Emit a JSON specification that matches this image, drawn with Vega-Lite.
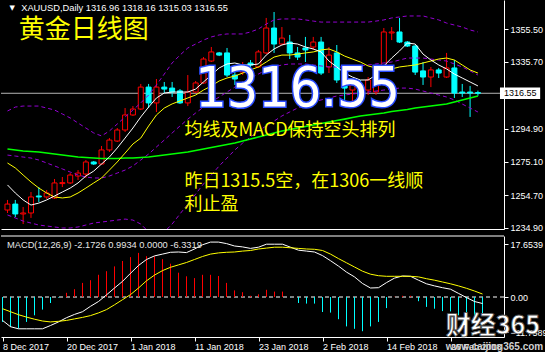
{
"$schema": "https://vega.github.io/schema/vega-lite/v6.json",
"background": "#000000",
"padding": 0,
"spacing": 2,
"config": {
  "view": {"stroke": null},
  "axis": {"grid": false, "labelColor": "#ffffff", "labelFont": "Liberation Sans", "labelFontSize": 9, "domainColor": "#ffffff", "tickColor": "#ffffff", "domainWidth": 1, "tickWidth": 1}
},
"datasets": {"bars": [
{"i":0,"d":"2017-12-08","o":1245.8,"h":1251.9,"l":1244.0,"c":1249.4,"m5":1261.0,"m10":1274.3,"bu":1305.8,"bm":1279.1,"bl":1242.8,"m60":1282.8,"dif":-7.8,"dea":-3.9,"hist":-8.3},
{"i":1,"d":"2017-12-11","o":1249.4,"h":1251.9,"l":1241.5,"c":1243.4,"m5":1256.1,"m10":1271.3,"bu":1308.2,"bm":1278.5,"bl":1241.0,"m60":1282.2,"dif":-9.9,"dea":-4.9,"hist":-10.0},
{"i":2,"d":"2017-12-12","o":1243.4,"h":1247.6,"l":1237.3,"c":1244.0,"m5":1251.9,"m10":1267.0,"bu":1308.8,"bm":1277.9,"bl":1239.1,"m60":1281.6,"dif":-10.6,"dea":-5.9,"hist":-10.5},
{"i":3,"d":"2017-12-13","o":1244.0,"h":1256.7,"l":1241.0,"c":1253.7,"m5":1248.8,"m10":1262.8,"bu":1308.8,"bm":1277.3,"bl":1237.9,"m60":1281.3,"dif":-10.6,"dea":-6.7,"hist":-8.3},
{"i":4,"d":"2017-12-14","o":1254.3,"h":1259.7,"l":1250.6,"c":1253.7,"m5":1250.0,"m10":1259.1,"bu":1308.8,"bm":1276.1,"bl":1236.7,"m60":1281.0,"dif":-10.6,"dea":-7.4,"hist":-6.1},
{"i":5,"d":"2017-12-15","o":1253.7,"h":1257.9,"l":1252.5,"c":1256.1,"m5":1251.9,"m10":1256.1,"bu":1307.6,"bm":1274.3,"bl":1236.1,"m60":1280.4,"dif":-10.6,"dea":-8.0,"hist":-4.2},
{"i":6,"d":"2017-12-18","o":1253.1,"h":1264.6,"l":1252.5,"c":1262.2,"m5":1254.3,"m10":1253.7,"bu":1306.4,"bm":1272.5,"bl":1235.5,"m60":1279.7,"dif":-9.5,"dea":-8.3,"hist":-2.0},
{"i":7,"d":"2017-12-19","o":1261.8,"h":1265.8,"l":1259.7,"c":1262.4,"m5":1256.7,"m10":1253.1,"bu":1304.0,"bm":1270.7,"bl":1234.9,"m60":1279.1,"dif":-8.3,"dea":-8.1,"hist":-0.2},
{"i":8,"d":"2017-12-20","o":1262.2,"h":1268.2,"l":1261.6,"c":1267.0,"m5":1259.1,"m10":1253.7,"bu":1301.6,"bm":1268.8,"bl":1234.9,"m60":1278.5,"dif":-6.9,"dea":-7.8,"hist":1.4},
{"i":9,"d":"2017-12-21","o":1266.4,"h":1270.0,"l":1264.0,"c":1268.2,"m5":1262.2,"m10":1256.1,"bu":1298.5,"bm":1267.0,"bl":1235.5,"m60":1277.9,"dif":-5.8,"dea":-7.3,"hist":2.6},
{"i":10,"d":"2017-12-22","o":1267.6,"h":1276.1,"l":1265.2,"c":1274.9,"m5":1266.4,"m10":1259.1,"bu":1295.5,"bm":1265.8,"bl":1236.7,"m60":1277.6,"dif":-4.9,"dea":-6.8,"hist":4.7},
{"i":11,"d":"2017-12-25","o":1274.9,"h":1275.5,"l":1273.1,"c":1273.7,"m5":1269.4,"m10":1262.2,"bu":1292.5,"bm":1265.2,"bl":1237.9,"m60":1277.3,"dif":-3.1,"dea":-6.2,"hist":5.6},
{"i":12,"d":"2017-12-26","o":1273.7,"h":1284.6,"l":1273.1,"c":1282.2,"m5":1273.7,"m10":1265.2,"bu":1290.7,"bm":1265.2,"bl":1238.5,"m60":1277.0,"dif":-1.5,"dea":-5.3,"hist":7.4},
{"i":13,"d":"2017-12-27","o":1282.2,"h":1289.4,"l":1281.0,"c":1288.2,"m5":1277.9,"m10":1270.0,"bu":1293.7,"bm":1266.4,"bl":1239.1,"m60":1277.0,"dif":0.7,"dea":-4.2,"hist":8.6},
{"i":14,"d":"2017-12-28","o":1287.6,"h":1295.5,"l":1287.0,"c":1294.3,"m5":1283.4,"m10":1274.9,"bu":1297.9,"bm":1268.2,"bl":1239.7,"m60":1277.0,"dif":3.0,"dea":-2.6,"hist":10.2},
{"i":15,"d":"2017-12-29","o":1294.3,"h":1307.6,"l":1293.1,"c":1303.4,"m5":1289.4,"m10":1280.3,"bu":1302.2,"bm":1270.0,"bl":1240.3,"m60":1277.3,"dif":5.2,"dea":-0.9,"hist":12.0},
{"i":16,"d":"2018-01-01","o":1303.4,"h":1308.8,"l":1302.8,"c":1307.0,"m5":1295.5,"m10":1285.8,"bu":1306.4,"bm":1272.5,"bl":1239.7,"m60":1277.3,"dif":7.9,"dea":0.8,"hist":13.3},
{"i":17,"d":"2018-01-02","o":1307.0,"h":1322.2,"l":1306.4,"c":1320.3,"m5":1302.2,"m10":1289.4,"bu":1310.7,"bm":1276.1,"bl":1237.3,"m60":1277.6,"dif":10.5,"dea":3.0,"hist":14.7},
{"i":18,"d":"2018-01-03","o":1320.3,"h":1322.2,"l":1307.6,"c":1310.7,"m5":1308.2,"m10":1296.7,"bu":1315.5,"bm":1279.7,"bl":1232.5,"m60":1277.9,"dif":12.5,"dea":5.4,"hist":13.6},
{"i":19,"d":"2018-01-04","o":1310.7,"h":1325.2,"l":1305.2,"c":1320.3,"m5":1313.7,"m10":1303.4,"bu":1321.6,"bm":1284.0,"bl":1231.3,"m60":1278.5,"dif":13.7,"dea":7.3,"hist":13.6},
{"i":20,"d":"2018-01-05","o":1320.3,"h":1323.4,"l":1316.7,"c":1319.1,"m5":1316.7,"m10":1307.6,"bu":1328.2,"bm":1288.2,"bl":1232.5,"m60":1279.1,"dif":14.3,"dea":8.8,"hist":12.6},
{"i":21,"d":"2018-01-08","o":1319.7,"h":1323.4,"l":1314.3,"c":1317.3,"m5":1317.3,"m10":1310.1,"bu":1334.9,"bm":1292.5,"bl":1237.3,"m60":1279.7,"dif":14.9,"dea":9.9,"hist":11.1},
{"i":22,"d":"2018-01-09","o":1318.0,"h":1319.1,"l":1310.1,"c":1310.7,"m5":1317.3,"m10":1311.9,"bu":1339.7,"bm":1296.7,"bl":1243.4,"m60":1280.4,"dif":15.0,"dea":10.7,"hist":8.1},
{"i":23,"d":"2018-01-10","o":1310.7,"h":1327.6,"l":1308.8,"c":1317.3,"m5":1317.3,"m10":1313.7,"bu":1344.0,"bm":1300.9,"bl":1249.4,"m60":1281.0,"dif":14.8,"dea":11.5,"hist":6.9},
{"i":24,"d":"2018-01-11","o":1317.3,"h":1324.0,"l":1316.7,"c":1322.8,"m5":1319.1,"m10":1315.5,"bu":1346.4,"bm":1304.6,"bl":1255.5,"m60":1281.9,"dif":16.0,"dea":12.5,"hist":6.3},
{"i":25,"d":"2018-01-12","o":1322.8,"h":1338.5,"l":1322.2,"c":1337.3,"m5":1323.4,"m10":1318.5,"bu":1348.8,"bm":1308.2,"bl":1261.6,"m60":1282.8,"dif":17.4,"dea":13.5,"hist":7.4},
{"i":26,"d":"2018-01-15","o":1336.1,"h":1344.6,"l":1335.5,"c":1341.6,"m5":1327.6,"m10":1321.0,"bu":1350.7,"bm":1311.3,"bl":1267.0,"m60":1283.7,"dif":18.3,"dea":14.3,"hist":7.4},
{"i":27,"d":"2018-01-16","o":1341.0,"h":1341.6,"l":1339.1,"c":1339.7,"m5":1331.9,"m10":1324.0,"bu":1351.9,"bm":1314.3,"bl":1272.5,"m60":1284.6,"dif":18.3,"dea":14.7,"hist":7.0},
{"i":28,"d":"2018-01-17","o":1341.0,"h":1344.0,"l":1326.4,"c":1327.6,"m5":1334.3,"m10":1325.8,"bu":1352.5,"bm":1317.3,"bl":1277.3,"m60":1285.5,"dif":17.8,"dea":14.9,"hist":4.7},
{"i":29,"d":"2018-01-18","o":1327.6,"h":1330.7,"l":1321.6,"c":1325.2,"m5":1334.9,"m10":1327.0,"bu":1352.5,"bm":1320.3,"bl":1282.2,"m60":1286.4,"dif":17.0,"dea":15.0,"hist":2.2},
{"i":30,"d":"2018-01-19","o":1329.4,"h":1335.5,"l":1327.6,"c":1333.7,"m5":1333.7,"m10":1328.8,"bu":1352.5,"bm":1323.4,"bl":1286.4,"m60":1287.6,"dif":16.7,"dea":15.3,"hist":1.6},
{"i":31,"d":"2018-01-22","o":1334.9,"h":1336.7,"l":1331.9,"c":1333.7,"m5":1333.7,"m10":1330.7,"bu":1353.7,"bm":1325.8,"bl":1290.0,"m60":1288.8,"dif":16.2,"dea":15.5,"hist":0.4},
{"i":32,"d":"2018-01-23","o":1332.5,"h":1342.8,"l":1331.9,"c":1341.6,"m5":1334.3,"m10":1332.5,"bu":1355.5,"bm":1328.2,"bl":1293.7,"m60":1290.0,"dif":16.6,"dea":16.0,"hist":0.9},
{"i":33,"d":"2018-01-24","o":1341.0,"h":1362.2,"l":1340.3,"c":1356.1,"m5":1339.7,"m10":1335.5,"bu":1358.5,"bm":1330.7,"bl":1296.7,"m60":1291.3,"dif":17.6,"dea":16.3,"hist":2.4},
{"i":34,"d":"2018-01-25","o":1356.1,"h":1365.8,"l":1341.0,"c":1346.4,"m5":1343.4,"m10":1338.5,"bu":1361.0,"bm":1332.5,"bl":1299.7,"m60":1292.5,"dif":17.6,"dea":16.6,"hist":1.8},
{"i":35,"d":"2018-01-26","o":1346.4,"h":1356.7,"l":1345.8,"c":1350.0,"m5":1345.8,"m10":1339.7,"bu":1361.6,"bm":1333.7,"bl":1302.8,"m60":1293.7,"dif":17.6,"dea":16.6,"hist":1.8},
{"i":36,"d":"2018-01-29","o":1347.6,"h":1351.9,"l":1337.3,"c":1341.0,"m5":1347.0,"m10":1339.7,"bu":1361.6,"bm":1334.3,"bl":1305.2,"m60":1294.6,"dif":16.6,"dea":16.4,"hist":-0.1},
{"i":37,"d":"2018-01-30","o":1341.0,"h":1344.6,"l":1336.7,"c":1338.5,"m5":1346.4,"m10":1340.3,"bu":1361.6,"bm":1334.3,"bl":1307.6,"m60":1295.5,"dif":15.6,"dea":16.2,"hist":-2.0},
{"i":38,"d":"2018-01-31","o":1344.0,"h":1350.7,"l":1335.5,"c":1342.8,"m5":1344.6,"m10":1341.0,"bu":1361.0,"bm":1334.3,"bl":1309.4,"m60":1296.4,"dif":15.3,"dea":16.0,"hist":-2.2},
{"i":39,"d":"2018-02-01","o":1344.6,"h":1350.7,"l":1342.8,"c":1347.6,"m5":1343.4,"m10":1341.6,"bu":1360.3,"bm":1333.7,"bl":1311.3,"m60":1297.3,"dif":15.0,"dea":15.9,"hist":-2.2},
{"i":40,"d":"2018-02-02","o":1347.6,"h":1350.7,"l":1327.6,"c":1328.8,"m5":1341.6,"m10":1342.8,"bu":1359.7,"bm":1333.1,"bl":1312.5,"m60":1298.2,"dif":13.8,"dea":15.5,"hist":-5.0},
{"i":41,"d":"2018-02-05","o":1332.5,"h":1344.6,"l":1328.8,"c":1339.7,"m5":1336.1,"m10":1343.4,"bu":1359.7,"bm":1332.5,"bl":1313.7,"m60":1299.1,"dif":12.1,"dea":14.3,"hist":-5.2},
{"i":42,"d":"2018-02-06","o":1341.0,"h":1345.8,"l":1322.8,"c":1324.6,"m5":1332.5,"m10":1341.6,"bu":1359.7,"bm":1332.5,"bl":1314.9,"m60":1300.0,"dif":10.3,"dea":12.8,"hist":-7.4},
{"i":43,"d":"2018-02-07","o":1324.6,"h":1327.6,"l":1312.5,"c":1319.7,"m5":1328.8,"m10":1339.1,"bu":1359.7,"bm":1332.5,"bl":1315.5,"m60":1300.9,"dif":8.3,"dea":11.4,"hist":-9.8},
{"i":44,"d":"2018-02-08","o":1318.5,"h":1322.8,"l":1308.2,"c":1321.6,"m5":1326.4,"m10":1337.3,"bu":1359.7,"bm":1332.5,"bl":1316.1,"m60":1301.9,"dif":6.7,"dea":10.0,"hist":-10.6},
{"i":45,"d":"2018-02-09","o":1321.6,"h":1324.6,"l":1312.5,"c":1314.3,"m5":1324.6,"m10":1335.5,"bu":1359.7,"bm":1333.1,"bl":1316.7,"m60":1302.8,"dif":4.5,"dea":8.6,"hist":-11.4},
{"i":46,"d":"2018-02-12","o":1318.5,"h":1326.4,"l":1315.5,"c":1324.6,"m5":1324.6,"m10":1333.1,"bu":1359.7,"bm":1333.7,"bl":1317.3,"m60":1303.4,"dif":3.0,"dea":7.6,"hist":-9.8},
{"i":47,"d":"2018-02-13","o":1317.3,"h":1333.7,"l":1315.5,"c":1331.9,"m5":1327.6,"m10":1331.9,"bu":1360.3,"bm":1334.3,"bl":1317.9,"m60":1304.0,"dif":3.1,"dea":7.1,"hist":-8.3},
{"i":48,"d":"2018-02-14","o":1330.7,"h":1356.1,"l":1329.4,"c":1353.7,"m5":1333.1,"m10":1330.7,"bu":1361.0,"bm":1334.9,"bl":1318.5,"m60":1304.6,"dif":4.8,"dea":6.9,"hist":-3.7},
{"i":49,"d":"2018-02-15","o":1353.1,"h":1356.7,"l":1348.8,"c":1353.7,"m5":1337.9,"m10":1331.3,"bu":1362.2,"bm":1335.5,"bl":1319.1,"m60":1305.5,"dif":6.3,"dea":6.9,"hist":0.1},
{"i":50,"d":"2018-02-16","o":1353.7,"h":1362.2,"l":1347.0,"c":1347.6,"m5":1342.2,"m10":1332.5,"bu":1362.8,"bm":1336.7,"bl":1319.7,"m60":1306.1,"dif":7.0,"dea":6.9,"hist":0.4},
{"i":51,"d":"2018-02-19","o":1347.6,"h":1348.2,"l":1344.6,"c":1345.2,"m5":1347.0,"m10":1333.1,"bu":1363.4,"bm":1337.9,"bl":1319.7,"m60":1306.7,"dif":6.9,"dea":6.9,"hist":0.4},
{"i":52,"d":"2018-02-20","o":1345.2,"h":1345.8,"l":1327.6,"c":1329.4,"m5":1346.4,"m10":1333.7,"bu":1363.4,"bm":1337.9,"bl":1319.1,"m60":1307.6,"dif":5.6,"dea":6.7,"hist":-1.4},
{"i":53,"d":"2018-02-21","o":1330.1,"h":1335.5,"l":1321.6,"c":1326.4,"m5":1340.3,"m10":1334.9,"bu":1363.4,"bm":1337.9,"bl":1317.9,"m60":1308.2,"dif":4.4,"dea":6.1,"hist":-3.3},
{"i":54,"d":"2018-02-22","o":1326.4,"h":1332.5,"l":1320.3,"c":1330.7,"m5":1336.7,"m10":1336.1,"bu":1362.2,"bm":1337.3,"bl":1316.7,"m60":1308.8,"dif":3.7,"dea":5.6,"hist":-3.9},
{"i":55,"d":"2018-02-23","o":1330.7,"h":1331.9,"l":1325.8,"c":1328.8,"m5":1333.7,"m10":1337.3,"bu":1361.0,"bm":1336.7,"bl":1315.5,"m60":1309.4,"dif":3.1,"dea":5.0,"hist":-4.7},
{"i":56,"d":"2018-02-26","o":1326.4,"h":1341.0,"l":1325.8,"c":1331.9,"m5":1331.3,"m10":1337.9,"bu":1359.1,"bm":1336.1,"bl":1314.3,"m60":1310.0,"dif":2.6,"dea":4.4,"hist":-4.8},
{"i":57,"d":"2018-02-27","o":1331.9,"h":1336.7,"l":1313.7,"c":1316.7,"m5":1328.2,"m10":1336.7,"bu":1357.9,"bm":1334.3,"bl":1312.5,"m60":1311.3,"dif":1.2,"dea":3.7,"hist":-6.1},
{"i":58,"d":"2018-02-28","o":1317.3,"h":1322.2,"l":1314.3,"c":1316.7,"m5":1325.8,"m10":1333.7,"bu":1356.7,"bm":1332.5,"bl":1310.0,"m60":1312.5,"dif":-0.2,"dea":2.9,"hist":-6.1},
{"i":59,"d":"2018-03-01","o":1317.3,"h":1321.0,"l":1302.2,"c":1316.7,"m5":1323.4,"m10":1330.7,"bu":1354.9,"bm":1330.1,"bl":1307.6,"m60":1313.7,"dif":-1.5,"dea":2.0,"hist":-7.4},
{"i":60,"d":"2018-03-02","o":1316.96,"h":1318.16,"l":1315.03,"c":1316.55,"m5":1321.0,"m10":1328.8,"bu":1353.7,"bm":1327.6,"bl":1305.2,"m60":1314.9,"dif":-2.1726,"dea":0.9934,"hist":-6.3319}
]},
"vconcat": [
{
  "width": 503,
  "height": 229,
  "data": {"name": "bars"},
  "layer": [
    {"data": {"values": [{}]},
     "mark": {"type": "rule", "color": "#b4b4b4", "strokeWidth": 1},
     "encoding": {
       "y": {"datum": 1316.55, "type": "quantitative",
             "scale": {"domain": [1234.29, 1373.08], "nice": false, "zero": false},
             "axis": {"orient": "right", "title": null, "values": [1234.9, 1254.7, 1275.1, 1294.9, 1335.7, 1355.5], "format": ".2f", "tickSize": 4, "labelPadding": 2, "labelFlush": false, "labelOverlap": false, "labelBound": false}}}},
    {"mark": {"type": "rule", "strokeWidth": 1, "clip": true},
     "encoding": {
       "x": {"field": "i", "type": "quantitative", "scale": {"domain": [-0.1875, 62.6875], "nice": false, "zero": false},
             "axis": {"orient": "bottom", "title": null, "labels": false, "ticks": false, "domain": true}},
       "y": {"field": "l", "type": "quantitative", "title": null},
       "y2": {"field": "h"},
       "color": {"condition": {"test": "datum.c >= datum.o", "value": "#ff0000"}, "value": "#00ffff"}}},
    {"mark": {"type": "bar", "width": 5, "strokeWidth": 1, "clip": true},
     "encoding": {
       "x": {"field": "i", "type": "quantitative", "title": null},
       "y": {"field": "o", "type": "quantitative", "title": null},
       "y2": {"field": "c"},
       "fill": {"condition": {"test": "datum.c >= datum.o", "value": "#000000"}, "value": "#00ffff"},
       "stroke": {"condition": {"test": "datum.c >= datum.o", "value": "#ff0000"}, "value": "#00ffff"}}},
    {"mark": {"type": "line", "color": "#9400d3", "strokeWidth": 1, "strokeDash": [4, 3], "clip": true},
     "encoding": {"x": {"field": "i", "type": "quantitative", "title": null}, "y": {"field": "bu", "type": "quantitative", "title": null}}},
    {"mark": {"type": "line", "color": "#9400d3", "strokeWidth": 1, "strokeDash": [4, 3], "clip": true},
     "encoding": {"x": {"field": "i", "type": "quantitative", "title": null}, "y": {"field": "bm", "type": "quantitative", "title": null}}},
    {"mark": {"type": "line", "color": "#9400d3", "strokeWidth": 1, "strokeDash": [4, 3], "clip": true},
     "encoding": {"x": {"field": "i", "type": "quantitative", "title": null}, "y": {"field": "bl", "type": "quantitative", "title": null}}},
    {"mark": {"type": "line", "color": "#00ff00", "strokeWidth": 1.6, "clip": true},
     "encoding": {"x": {"field": "i", "type": "quantitative", "title": null}, "y": {"field": "m60", "type": "quantitative", "title": null}}},
    {"mark": {"type": "line", "color": "#ffff00", "strokeWidth": 1, "clip": true},
     "encoding": {"x": {"field": "i", "type": "quantitative", "title": null}, "y": {"field": "m10", "type": "quantitative", "title": null}}},
    {"mark": {"type": "line", "color": "#ffffff", "strokeWidth": 1, "clip": true},
     "encoding": {"x": {"field": "i", "type": "quantitative", "title": null}, "y": {"field": "m5", "type": "quantitative", "title": null}}},
    {"data": {"values": [{}]},
     "mark": {"type": "rect", "fill": "#ffffff"},
     "encoding": {"x": {"datum": 62.8125, "type": "quantitative"}, "x2": {"datum": 67.9375},
                  "y": {"datum": 1320.05, "type": "quantitative"}, "y2": {"datum": 1313.1}}},
    {"data": {"values": [{}]},
     "mark": {"type": "text", "align": "left", "baseline": "middle", "font": "Liberation Sans", "fontSize": 9, "color": "#000000"},
     "encoding": {"x": {"datum": 63.3125, "type": "quantitative"}, "y": {"datum": 1316.55, "type": "quantitative"}, "text": {"value": "1316.55"}}},
    {"data": {"values": [{}]},
     "mark": {"type": "text", "align": "center", "baseline": "middle", "font": "DejaVu Sans", "fontSize": 7, "color": "#ffffff"},
     "encoding": {"x": {"datum": 0.6, "type": "quantitative"}, "y": {"datum": 1368.4, "type": "quantitative"}, "text": {"value": "▼"}}},
    {"data": {"values": [{}]},
     "mark": {"type": "text", "align": "left", "baseline": "middle", "font": "Liberation Sans", "fontSize": 9.3, "color": "#ffffff"},
     "encoding": {"x": {"datum": 1.75, "type": "quantitative"}, "y": {"datum": 1368.2, "type": "quantitative"}, "text": {"value": "XAUUSD,Daily  1316.96 1318.16 1315.03 1316.55"}}},
    {"data": {"values": [{}]},
     "mark": {"type": "text", "align": "left", "baseline": "middle", "font": "Noto Sans CJK SC", "fontSize": 26, "color": "#ffff00"},
     "encoding": {"x": {"datum": 1.4375, "type": "quantitative"}, "y": {"datum": 1354.6, "type": "quantitative"}, "text": {"value": "黄金日线图"}}},
    {"data": {"values": [{}]},
     "mark": {"type": "text", "align": "left", "baseline": "middle", "font": "Noto Sans CJK SC", "fontSize": 18, "color": "#ffff00"},
     "encoding": {"x": {"datum": 22.5625, "type": "quantitative"}, "y": {"datum": 1293.7, "type": "quantitative"}, "text": {"value": "均线及MACD保持空头排列"}}},
    {"data": {"values": [{}]},
     "mark": {"type": "text", "align": "left", "baseline": "middle", "font": "Noto Sans CJK SC", "fontSize": 18, "color": "#ffff00"},
     "encoding": {"x": {"datum": 22.5625, "type": "quantitative"}, "y": {"datum": 1262.8, "type": "quantitative"}, "text": {"value": "昨日1315.5空，在1306一线顺"}}},
    {"data": {"values": [{}]},
     "mark": {"type": "text", "align": "left", "baseline": "middle", "font": "Noto Sans CJK SC", "fontSize": 18, "color": "#ffff00"},
     "encoding": {"x": {"datum": 22.5625, "type": "quantitative"}, "y": {"datum": 1248.8, "type": "quantitative"}, "text": {"value": "利止盈"}}},
    {"data": {"values": [{}]},
     "mark": {"type": "text", "align": "center", "baseline": "middle", "font": "Liberation Sans Narrow, DejaVu Sans Condensed, Liberation Sans", "fontSize": 55, "color": "#2a4cff", "stroke": "#2a4cff", "strokeWidth": 3},
     "encoding": {"x": {"datum": 37.0, "type": "quantitative"}, "y": {"datum": 1319.1, "type": "quantitative"}, "text": {"value": "1316.55"}}},
    {"data": {"values": [{}]},
     "mark": {"type": "text", "align": "center", "baseline": "middle", "font": "Liberation Sans Narrow, DejaVu Sans Condensed, Liberation Sans", "fontSize": 55, "color": "#ffffff"},
     "encoding": {"x": {"datum": 37.0, "type": "quantitative"}, "y": {"datum": 1319.1, "type": "quantitative"}, "text": {"value": "1316.55"}}}
  ]
},
{
  "width": 503,
  "height": 101,
  "data": {"name": "bars"},
  "layer": [
    {"data": {"values": [{}]},
     "mark": {"type": "rule", "color": "#ffffff", "strokeWidth": 1, "strokeDash": [4, 3]},
     "encoding": {
       "y": {"datum": 0, "type": "quantitative",
             "scale": {"domain": [-13.33, 20.33], "nice": false, "zero": false},
             "axis": {"orient": "right", "title": null, "values": [-11.7589, 0, 17.6539], "labelExpr": "datum.value == 0 ? '0.00' : format(datum.value, '.4f')", "tickSize": 4, "labelPadding": 2, "labelFlush": false, "labelOverlap": false, "labelBound": false}}}},
    {"data": {"values": [{}]},
     "mark": {"type": "rule", "color": "#ffffff", "strokeWidth": 1},
     "encoding": {"y": {"datum": 20.33, "type": "quantitative"}}},
    {"mark": {"type": "rule", "strokeWidth": 1},
     "encoding": {
       "x": {"field": "i", "type": "quantitative", "scale": {"domain": [-0.1875, 62.6875], "nice": false, "zero": false},
             "axis": {"orient": "bottom", "title": null, "values": [0, 8, 16, 24, 32, 40, 48, 56], "labelExpr": "['8 Dec 2017','20 Dec 2017','1 Jan 2018','11 Jan 2018','23 Jan 2018','2 Feb 2018','14 Feb 2018','26 Feb 2018'][round(datum.value / 8)]", "labelAlign": "left", "tickSize": 4, "labelPadding": 1, "labelFlush": false, "labelOverlap": false, "labelBound": false}},
       "y": {"field": "hist", "type": "quantitative", "title": null},
       "y2": {"datum": 0},
       "color": {"condition": {"test": "datum.hist >= 0", "value": "#ff0000"}, "value": "#00ffff"}}},
    {"mark": {"type": "line", "color": "#ffffff", "strokeWidth": 1, "clip": true},
     "encoding": {"x": {"field": "i", "type": "quantitative", "title": null}, "y": {"field": "dif", "type": "quantitative", "title": null}}},
    {"mark": {"type": "line", "color": "#ffff00", "strokeWidth": 1, "clip": true},
     "encoding": {"x": {"field": "i", "type": "quantitative", "title": null}, "y": {"field": "dea", "type": "quantitative", "title": null}}},
    {"data": {"values": [{}]},
     "mark": {"type": "text", "align": "left", "baseline": "middle", "font": "Liberation Sans", "fontSize": 9.3, "color": "#e6e6e6"},
     "encoding": {"x": {"datum": 0.5625, "type": "quantitative"}, "y": {"datum": 17.3, "type": "quantitative"}, "text": {"value": "MACD(12,26,9) -2.1726 0.9934 0.0000 -6.3319"}}},
    {"data": {"values": [{}]},
     "mark": {"type": "text", "align": "center", "baseline": "middle", "font": "Noto Sans CJK SC", "fontWeight": "bold", "fontSize": 25, "color": "#ffffff", "stroke": "#505050", "strokeWidth": 0.8},
     "encoding": {"x": {"datum": 61.3, "type": "quantitative"}, "y": {"datum": -9.7, "type": "quantitative"}, "text": {"value": "财经365"}}},
    {"data": {"values": [{}]},
     "mark": {"type": "text", "align": "center", "baseline": "middle", "font": "Liberation Sans", "fontWeight": "bold", "fontSize": 10, "color": "#d0d0d0"},
     "encoding": {"x": {"datum": 61.5, "type": "quantitative"}, "y": {"datum": -16.6, "type": "quantitative"}, "text": {"value": "www.caijing365.com"}}}
  ]
}
]
}
